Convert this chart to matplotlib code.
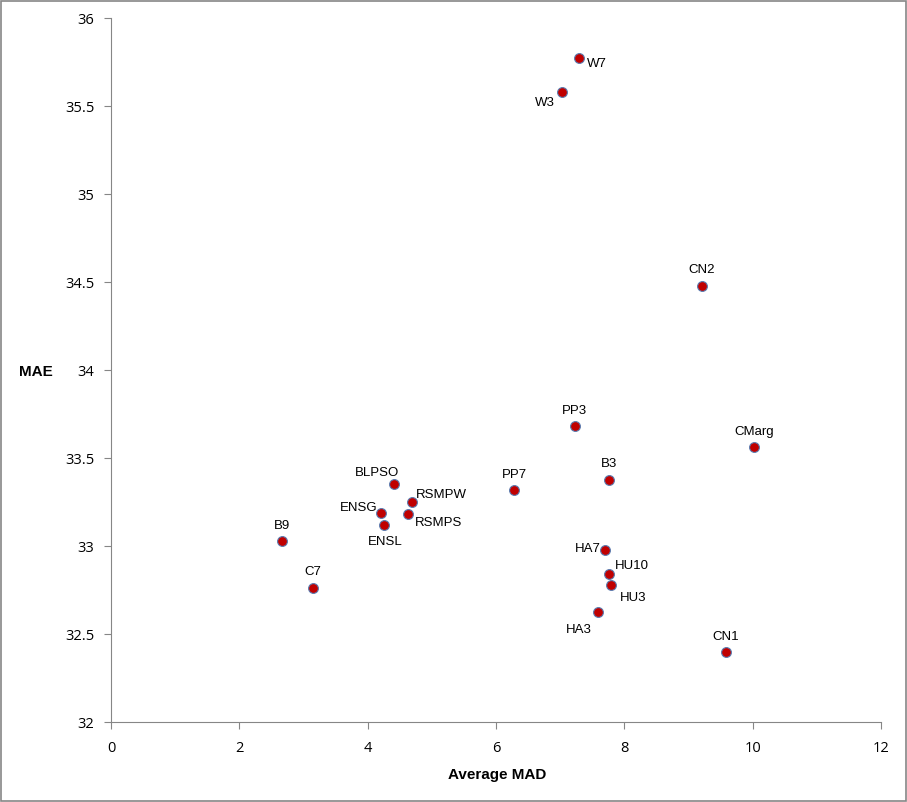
import matplotlib.pyplot as plt
from matplotlib.patches import Rectangle

names = ['W7', 'W3', 'CN2', 'PP3', 'CMarg', 'B3', 'PP7', 'BLPSO', 'RSMPW', 'ENSG',
         'RSMPS', 'ENSL', 'B9', 'C7', 'HA7', 'HU10', 'HU3', 'HA3', 'CN1']
avg_mad = [7.29, 7.03, 9.21, 7.23, 10.02, 7.76, 6.28, 4.41, 4.69, 4.21,
           4.63, 4.25, 2.66, 3.15, 7.70, 7.76, 7.79, 7.59, 9.58]
mae = [35.77, 35.58, 34.48, 33.68, 33.56, 33.375, 33.32, 33.35, 33.25, 33.19,
       33.18, 33.12, 33.03, 32.76, 32.98, 32.84, 32.78, 32.625, 32.40]

# label offsets (pixels) and alignment
offsets = {
    'W7': (8, -6, 'left'), 'W3': (-7, -11, 'right'), 'CN2': (0, 16, 'center'),
    'PP3': (0, 15, 'center'), 'CMarg': (0, 15, 'center'), 'B3': (0, 16, 'center'),
    'PP7': (0, 15, 'center'), 'BLPSO': (-17, 11, 'center'), 'RSMPW': (4, 7, 'left'),
    'ENSG': (-4, 5, 'right'), 'RSMPS': (7, -9, 'left'), 'ENSL': (2, -17, 'center'),
    'B9': (0, 15, 'center'), 'C7': (0, 16, 'center'), 'HA7': (-4, 1, 'right'),
    'HU10': (6, 8, 'left'), 'HU3': (9, -13, 'left'), 'HA3': (-6, -18, 'right'),
    'CN1': (0, 15, 'center'),
}

fig = plt.figure(figsize=(9.07, 8.02), dpi=100)
ax = fig.add_axes([111 / 907, 80 / 802, 770 / 907, 704 / 802])

ax.scatter(avg_mad, mae, s=50, color='#C00000', edgecolors='#5B7DB1',
           linewidths=0.8, zorder=3)

for n, x, y in zip(names, avg_mad, mae):
    dx, dy, ha = offsets[n]
    ax.annotate(n, (x, y), xytext=(dx, dy), textcoords='offset pixels',
                ha=ha, va='center', fontsize=9.5, family='Liberation Sans')

ax.set_xlim(0, 12)
ax.set_ylim(32, 36)
ax.set_xticks(range(0, 13, 2))
ax.set_yticks([32, 32.5, 33, 33.5, 34, 34.5, 35, 35.5, 36])
ax.set_yticklabels(['32', '32.5', '33', '33.5', '34', '34.5', '35', '35.5', '36'])

for s in ['top', 'right']:
    ax.spines[s].set_visible(False)
for s in ['left', 'bottom']:
    ax.spines[s].set_color('#868686')
ax.tick_params(colors='#868686', length=5, labelcolor='black', labelsize=10.5)
ax.tick_params(axis='x', pad=9)
ax.tick_params(axis='y', pad=7)
for lab in ax.get_xticklabels() + ax.get_yticklabels():
    lab.set_family('Open Sans')

ax.set_xlabel('Average MAD', fontsize=11, fontweight='bold', family='Liberation Sans')
ax.set_ylabel('MAE', fontsize=11, fontweight='bold', family='Liberation Sans',
              rotation=0, ha='center', va='center')
ax.xaxis.set_label_coords(386 / 770, -46 / 704)
ax.yaxis.set_label_coords(-75 / 770, 350 / 704)

fig.patches.append(Rectangle((0.001, 0.001), 0.998, 0.998, transform=fig.transFigure,
                             fill=False, edgecolor='#868686', linewidth=1.2))

fig.savefig('out.png', dpi=100)
